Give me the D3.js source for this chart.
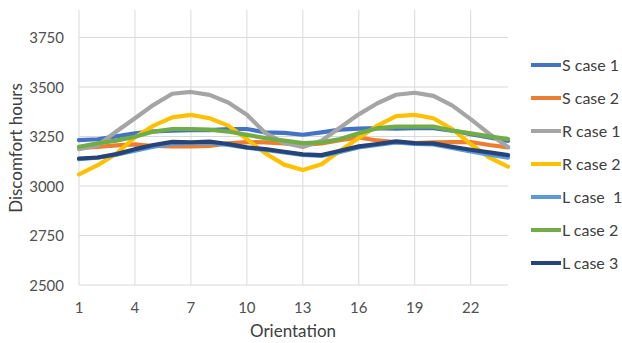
<!DOCTYPE html>
<html><head><meta charset="utf-8">
<script src="https://cdn.jsdelivr.net/npm/d3@7"></script>
<style>body{margin:0;background:#fff}svg{display:block}text{font-family:Lato,"Open Sans",sans-serif}</style>
</head><body><svg id="c" width="622" height="343"></svg>
<script>
const orientations = d3.range(1, 25);
const xTicks = [1, 4, 7, 10, 13, 16, 19, 22];
const yTicks = [2500, 2750, 3000, 3250, 3500, 3750];
const seriesNames = ["S case 1", "S case 2", "R case 1", "R case 2", "L case  1", "L case 2", "L case 3"];
const colors = ["#4472C4", "#ED7D31", "#A5A5A5", "#FFC000", "#5B9BD5", "#70AD47", "#264478"];
const sCase1 = [3232,3236,3251,3266,3276,3280,3282,3282,3288,3288,3271,3268,3259,3271,3285,3290,3292,3290,3292,3292,3280,3262,3245,3228];
const sCase2 = [3193,3197,3205,3210,3202,3200,3200,3203,3215,3222,3220,3215,3207,3215,3232,3245,3230,3220,3217,3220,3222,3222,3207,3195];
const rCase1 = [3186,3205,3275,3342,3410,3466,3475,3460,3422,3360,3267,3217,3197,3229,3295,3362,3418,3461,3471,3455,3407,3338,3263,3197];
const rCase2 = [3059,3105,3163,3246,3305,3347,3359,3342,3305,3237,3165,3108,3081,3110,3178,3242,3305,3353,3359,3342,3288,3212,3144,3098];
const lCase1 = [3135,3143,3158,3178,3198,3214,3217,3218,3207,3193,3182,3170,3157,3152,3172,3195,3208,3220,3212,3210,3192,3175,3158,3143];
const lCase2 = [3198,3215,3229,3249,3275,3288,3288,3285,3275,3258,3242,3229,3217,3220,3237,3267,3292,3300,3300,3300,3280,3266,3251,3237];
const lCase3 = [3139,3144,3161,3186,3207,3223,3221,3224,3212,3195,3186,3173,3160,3156,3178,3200,3212,3225,3217,3215,3198,3183,3170,3156];
const allSeries = [sCase1, sCase2, rCase1, rCase2, lCase1, lCase2, lCase3];

const svg = d3.select("#c");
const x = d3.scaleLinear().domain([1, 24]).range([79, 508]);
const y = d3.scaleLinear().domain([2500, 3750]).range([285, 37.5]);
const plotTop = y(3889);

const g = svg.append("g");
g.selectAll("line.h").data(yTicks).join("line")
  .attr("x1", x(1)).attr("x2", x(24)).attr("y1", d => y(d)).attr("y2", d => y(d))
  .attr("stroke", "#d9d9d9").attr("stroke-width", 1);
g.selectAll("line.v").data(xTicks).join("line")
  .attr("x1", d => x(d)).attr("x2", d => x(d)).attr("y1", plotTop).attr("y2", y(2500))
  .attr("stroke", "#d9d9d9").attr("stroke-width", 1);

g.selectAll("text.yt").data(yTicks).join("text")
  .attr("x", 64).attr("y", d => y(d) + 5.5).attr("text-anchor", "end")
  .attr("font-size", 15).attr("fill", "#505050").text(d => d);
g.selectAll("text.xt").data(xTicks).join("text")
  .attr("x", d => x(d)).attr("y", 312.5).attr("text-anchor", "middle")
  .attr("font-size", 15).attr("fill", "#505050").text(d => d);

svg.append("text").attr("transform", "translate(22,148) rotate(-90)")
  .attr("text-anchor", "middle").attr("font-size", 17).attr("fill", "#404040").text("Discomfort hours");
svg.append("text").attr("x", 293).attr("y", 337)
  .attr("text-anchor", "middle").attr("font-size", 17).attr("fill", "#404040").text("Orientation");

const line = d3.line().x((d, i) => x(orientations[i])).y(d => y(d));
svg.append("g").selectAll("path").data(allSeries).join("path")
  .attr("d", d => line(d)).attr("fill", "none")
  .attr("stroke", (d, i) => colors[i]).attr("stroke-width", 4.2)
  .attr("stroke-linejoin", "round").attr("stroke-linecap", "round");

const leg = svg.append("g").selectAll("g").data(seriesNames).join("g")
  .attr("transform", (d, i) => `translate(531,${65 + i * 33})`);
leg.append("line").attr("x1", 0).attr("x2", 30).attr("y1", 0).attr("y2", 0)
  .attr("stroke", (d, i) => colors[i]).attr("stroke-width", 4);
leg.append("text").attr("x", 31).attr("y", 6).attr("font-size", 16)
  .attr("fill", "#404040").style("white-space", "pre").text(d => d);
</script></body></html>
